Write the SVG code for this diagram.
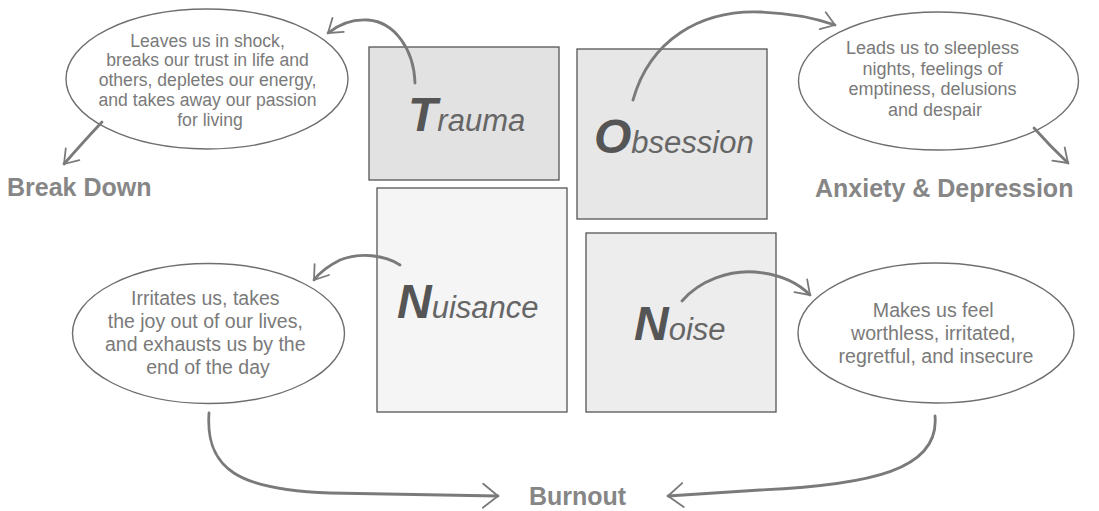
<svg xmlns="http://www.w3.org/2000/svg" width="1099" height="511" viewBox="0 0 1099 511">
<style>
.box{stroke:#555;stroke-width:1.3}
.ell{fill:#fff;stroke:#6e6e6e;stroke-width:1.4}
.big{font-family:"Liberation Sans",Arial,sans-serif;font-weight:bold;font-style:italic;font-size:48px;fill:#555}
.rest{font-family:"Liberation Sans",Arial,sans-serif;font-style:italic;font-size:31px;fill:#666}
.desc{font-family:"Liberation Sans",Arial,sans-serif;fill:#7a7a7a;text-anchor:middle}
.lbl{font-family:"Liberation Sans",Arial,sans-serif;font-weight:bold;font-size:25px;fill:#868686}
.con{fill:none;stroke:#7a7a7a;stroke-width:2.8;stroke-linecap:round}
.head{fill:none;stroke:#7a7a7a;stroke-width:1.8;stroke-linecap:round;stroke-linejoin:round}
</style>
<defs>
<marker id="ah" markerUnits="userSpaceOnUse" viewBox="-16 -12 18 24" markerWidth="18" markerHeight="24" refX="0" refY="0" orient="auto">
<path class="head" d="M-13,-9 L0,0 L-13,9"/>
</marker>
<marker id="ahL" markerUnits="userSpaceOnUse" viewBox="-18 -14 20 28" markerWidth="20" markerHeight="28" refX="0" refY="0" orient="auto">
<path class="head" d="M-15,-12 L0,0 L-15,12"/>
</marker>
</defs>
<rect width="1099" height="511" fill="#fff"/>

<g id="trauma">
<rect class="box" x="369" y="47" width="190" height="133" fill="#e2e2e2"/>
<text x="408" y="131"><tspan class="big">T</tspan><tspan class="rest">rauma</tspan></text>
</g>
<g id="obsession">
<rect class="box" x="577" y="49" width="190" height="170" fill="#e7e7e7"/>
<text x="594" y="153"><tspan class="big">O</tspan><tspan class="rest">bsession</tspan></text>
</g>
<g id="nuisance">
<rect class="box" x="377" y="188" width="190" height="224" fill="#f5f5f5"/>
<text x="397" y="318"><tspan class="big">N</tspan><tspan class="rest">uisance</tspan></text>
</g>
<g id="noise">
<rect class="box" x="586" y="233" width="190" height="179" fill="#ededed"/>
<text x="634" y="340"><tspan class="big">N</tspan><tspan class="rest">oise</tspan></text>
</g>

<g id="trauma-effect">
<ellipse class="ell" cx="207" cy="79" rx="141" ry="70"/>
<text class="desc" font-size="17.6">
<tspan x="210" y="46.5">Leaves us in shock,</tspan>
<tspan x="210" y="66.3">breaks our trust in life and</tspan>
<tspan x="210" y="86">others, depletes our energy,</tspan>
<tspan x="210" y="105.8">and takes away our passion</tspan>
<tspan x="210" y="125.5">for living</tspan>
</text>
</g>
<g id="obsession-effect">
<ellipse class="ell" cx="938.5" cy="81" rx="140" ry="69"/>
<text class="desc" font-size="18">
<tspan x="935" y="54">Leads us to sleepless</tspan>
<tspan x="935" y="74.7">nights, feelings of</tspan>
<tspan x="935" y="95.3">emptiness, delusions</tspan>
<tspan x="935" y="116">and despair</tspan>
</text>
</g>
<g id="nuisance-effect">
<ellipse class="ell" cx="208.5" cy="333.5" rx="136" ry="70"/>
<text class="desc" font-size="19.5">
<tspan x="208" y="305">Irritates us, takes</tspan>
<tspan x="208" y="328">the joy out of our lives,</tspan>
<tspan x="208" y="351">and exhausts us by the</tspan>
<tspan x="208" y="374">end of the day</tspan>
</text>
</g>
<g id="noise-effect">
<ellipse class="ell" cx="936" cy="333" rx="138" ry="70"/>
<text class="desc" font-size="19.6">
<tspan x="936" y="317">Makes us feel</tspan>
<tspan x="936" y="340">worthless, irritated,</tspan>
<tspan x="936" y="363">regretful, and insecure</tspan>
</text>
</g>

<g id="break-down"><text class="lbl" x="7" y="196">Break Down</text></g>
<g id="anxiety"><text class="lbl" x="815" y="197" font-size="24.4">Anxiety &amp; Depression</text></g>
<g id="burnout"><text class="lbl" x="529" y="505">Burnout</text></g>

<g id="connectors">
<path class="con" d="M415,83 C414,50 395,22 368,20 C352,19 338,25 328,33" marker-end="url(#ah)"/>
<path class="con" d="M102,122 Q85,140 64,164" marker-end="url(#ah)"/>
<path class="con" d="M633,100 C650,40 700,10 760,12 C790,13 815,18 835,25" marker-end="url(#ah)"/>
<path class="con" d="M1034,128 Q1050,146 1068,163" marker-end="url(#ah)"/>
<path class="con" d="M400,265 C385,255 360,252 340,260 C328,266 320,272 314,280" marker-end="url(#ah)"/>
<path class="con" d="M682,301 C700,280 730,270 755,272 C780,274 798,283 810,295" marker-end="url(#ah)"/>
<path class="con" d="M209,413 C205,470 240,490 330,493 L498,496" marker-end="url(#ahL)"/>
<path class="con" d="M935,416 C940,470 870,485 760,490 L668,496" marker-end="url(#ahL)"/>
</g>
</svg>
